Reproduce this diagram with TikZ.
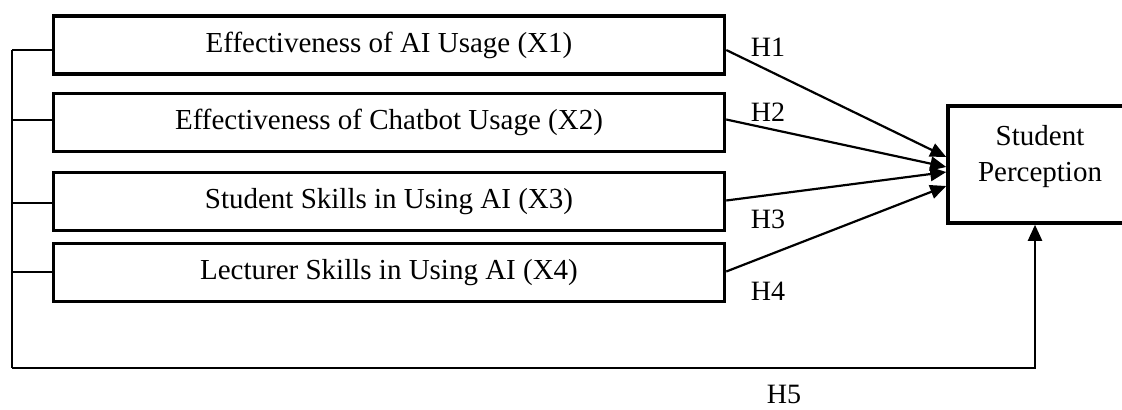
\documentclass[tikz,border=0pt]{standalone}
\usepackage{fontspec}
\setmainfont{Liberation Serif}
\usetikzlibrary{arrows.meta,calc}
\begin{document}
\begin{tikzpicture}[x=0.5pt,y=-0.5pt,
  varbox/.style={draw,line width=1.75pt,minimum width=335.5pt,minimum height=29pt,inner sep=0pt,font=\fontsize{14.5}{18}\selectfont},
  outbox/.style={draw,line width=1.75pt,minimum width=91pt,minimum height=58.5pt,inner sep=0pt},
  txt/.style={inner sep=0pt,font=\fontsize{14.5}{18}\selectfont,align=center},
  hlab/.style={inner sep=0pt,font=\fontsize{14}{17}\selectfont},
  conn/.style={line width=1.1pt},
  arr/.style={line width=1.1pt,-{Triangle[length=8pt,width=7pt]}}]
\useasboundingbox (0,0) rectangle (1122,409);
\clip (0,0) rectangle (1122,409);
\node[varbox] (x1) at (389,45) {Effectiveness of AI Usage (X1)};
\node[varbox] (x2) at (389,122.5) {Effectiveness of Chatbot Usage (X2)};
\node[varbox] (x3) at (389,201.5) {Student Skills in Using AI (X3)};
\node[varbox] (x4) at (389,272.5) {Lecturer Skills in Using AI (X4)};
\node[outbox] (sp) at (1039,164.5) {};
\node[txt] (spt) at (1040,156.5) {Student\\Perception};
% left bracket
\coordinate (top) at (12,50);
\coordinate (bot) at (12,368);
\draw[conn] (top) -- (bot);
\draw[conn] (top) -- (top -| x1.west);
\draw[conn] (12,120) -- (12,120 -| x2.west);
\draw[conn] (12,203) -- (12,203 -| x3.west);
\draw[conn] (12,272) -- (12,272 -| x4.west);
\draw[arr] (bot) -| ([xshift=-2pt]sp.south);
% arrows
\draw[arr] ([yshift=-2.5pt]x1.east) -- ([yshift=3.75pt]sp.west);
\draw[arr] ([yshift=1.5pt]x2.east) -- ([yshift=-1.25pt]sp.west);
\draw[arr] ([yshift=0.5pt]x3.east) -- ([yshift=-3.75pt]sp.west);
\draw[arr] ([yshift=0.5pt]x4.east) -- ([yshift=-10.75pt]sp.west);
% labels
\node[hlab] (h1) at (768,47) {H1};
\node[hlab] (h2) at (768,112) {H2};
\node[hlab] (h3) at (768,219) {H3};
\node[hlab] (h4) at (768,291) {H4};
\node[hlab] (h5) at (784,394) {H5};
\end{tikzpicture}
\end{document}
